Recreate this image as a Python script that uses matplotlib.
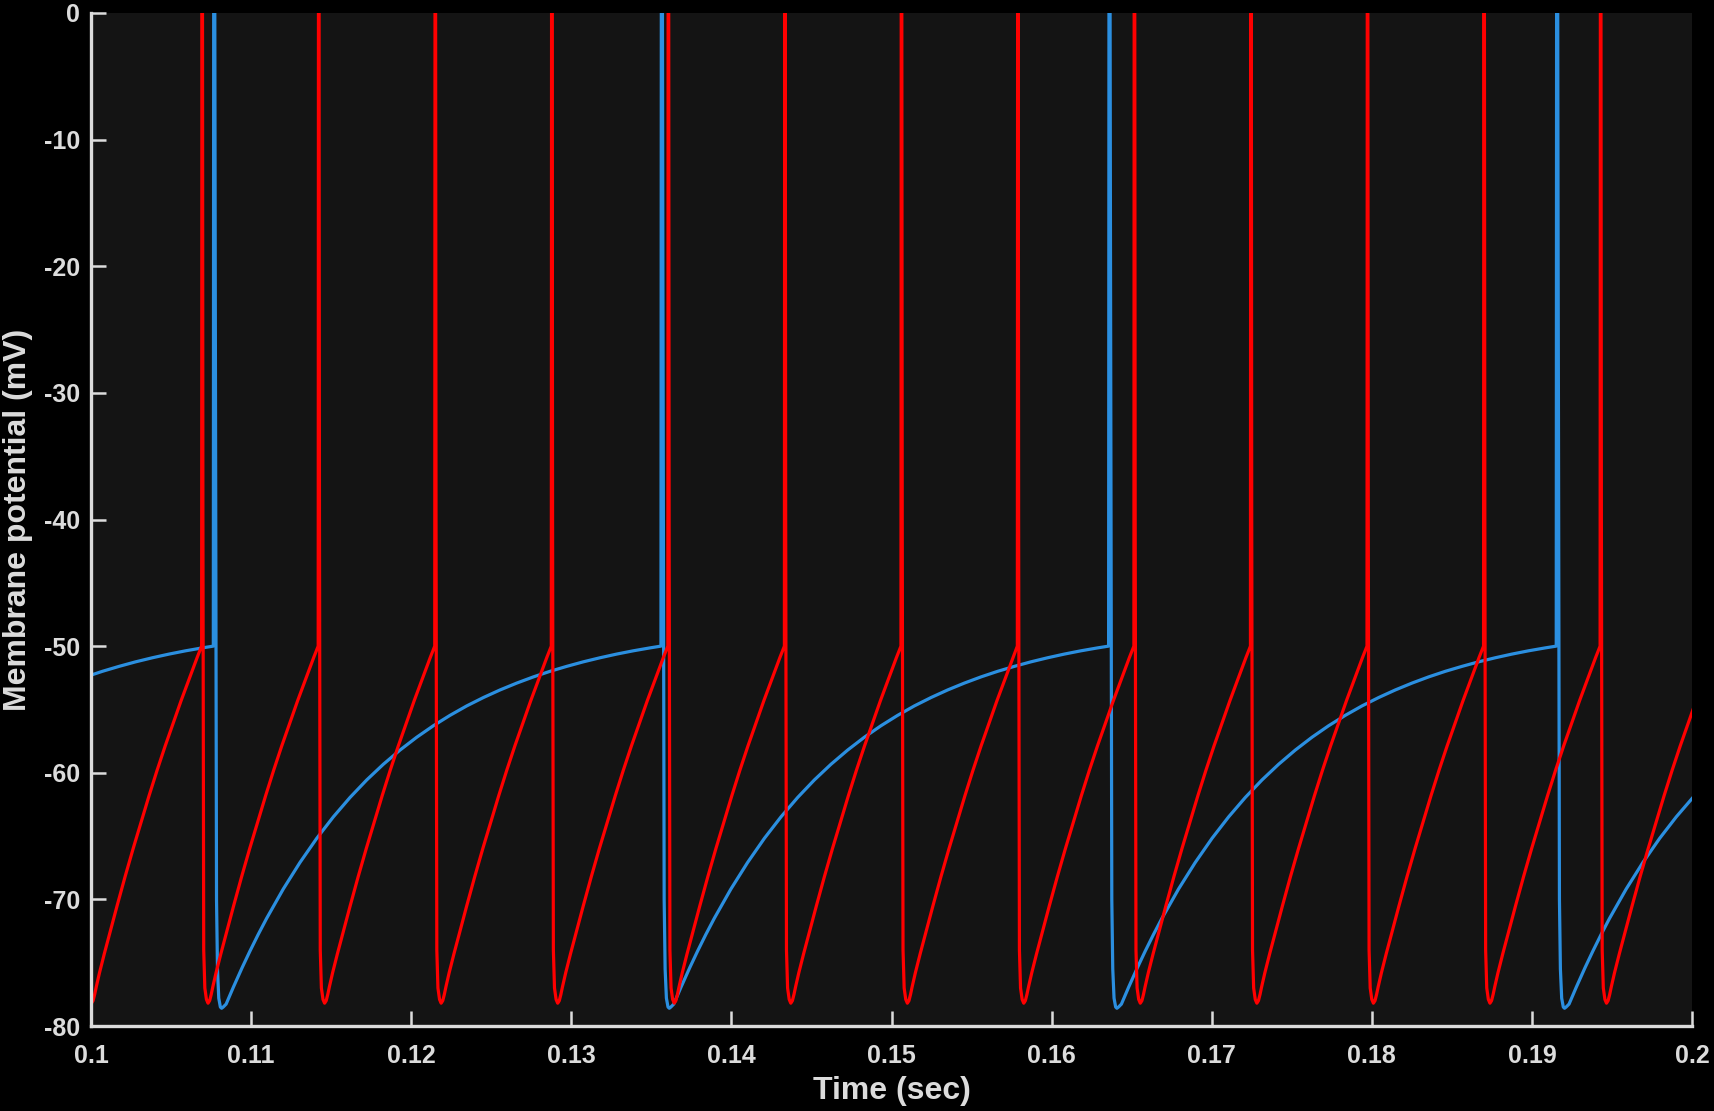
import numpy as np
import matplotlib
matplotlib.use("Agg")
import matplotlib.pyplot as plt

# spike onset times (s)
red_spikes = [0.09963, 0.10691, 0.11419, 0.12147, 0.12875, 0.13603, 0.14331,
              0.15059, 0.15786, 0.16514, 0.17242, 0.17970, 0.18698, 0.19426]
blue_spikes = [0.07968, 0.10764, 0.13560, 0.16356, 0.19152]

# one cycle of each trace: time after spike onset (s) and membrane potential (mV)
red_cycle_t = [0, 0.00003, 0.00008, 0.00013, 0.0002, 0.0003, 0.0004, 0.0005,
               0.0006, 0.0007, 0.0009, 0.0012, 0.0016, 0.002, 0.0025, 0.003,
               0.0035, 0.004, 0.0045, 0.005, 0.0055, 0.006, 0.0065, 0.007]
red_cycle_v = [-50, 40, -40, -74, -77.0, -77.9, -78.2, -78.0,
               -77.5, -76.9, -75.8, -74.3, -72.4, -70.5, -68.2, -66.0,
               -63.9, -61.8, -59.8, -57.9, -56.1, -54.3, -52.6, -50.9]

blue_cycle_t = [0, 0.00004, 0.00012, 0.0002, 0.00026, 0.00034, 0.00044, 0.00052,
                0.00062, 0.0008, 0.00125, 0.0018, 0.00229, 0.0028, 0.00333,
                0.00437, 0.00541, 0.00646, 0.0075, 0.00854, 0.00958, 0.01062,
                0.01166, 0.0127, 0.01374, 0.01478, 0.01583, 0.01687, 0.01791,
                0.01895, 0.01999, 0.02103, 0.02207, 0.02311, 0.02415, 0.02519,
                0.02623, 0.02727]
blue_cycle_v = [-50, 40, -20, -70, -75.5, -77.8, -78.5, -78.6,
                -78.5, -78.27, -76.94, -75.39, -74.08, -72.78, -71.50,
                -69.18, -67.09, -65.18, -63.48, -61.95, -60.57, -59.33,
                -58.21, -57.20, -56.29, -55.47, -54.72, -54.06, -53.46,
                -52.92, -52.43, -51.99, -51.60, -51.24, -50.92, -50.63,
                -50.37, -50.14]

x_ticks = [0.1, 0.11, 0.12, 0.13, 0.14, 0.15, 0.16, 0.17, 0.18, 0.19, 0.2]
x_labels = ["0.1", "0.11", "0.12", "0.13", "0.14", "0.15", "0.16", "0.17", "0.18", "0.19", "0.2"]
y_ticks = [-80, -70, -60, -50, -40, -30, -20, -10, 0]
y_labels = ["-80", "-70", "-60", "-50", "-40", "-30", "-20", "-10", "0"]


def build_trace(spikes, cyc_t, cyc_v):
    # place the same cycle after every spike onset
    t = np.concatenate([s + np.asarray(cyc_t) for s in spikes])
    v = np.tile(cyc_v, len(spikes))
    return t, v


plt.rcParams["font.family"] = ["Liberation Sans", "DejaVu Sans"]
plt.rcParams["font.weight"] = "bold"

fg = "#dcdcdc"
fig = plt.figure(figsize=(17.14, 11.11), dpi=100, facecolor="black")
ax = fig.add_axes([91 / 1714, 1 - 1026 / 1111, 1601 / 1714, 1013 / 1111])
ax.set_facecolor("#141414")

tb, vb = build_trace(blue_spikes, blue_cycle_t, blue_cycle_v)
tr, vr = build_trace(red_spikes, red_cycle_t, red_cycle_v)
ax.plot(tb, vb, color="#2b8fe0", lw=2.3)
ax.plot(tr, vr, color="#ff0000", lw=2.3)

ax.set_xlim(0.1, 0.2)
ax.set_ylim(-80, 0)
ax.set_xticks(x_ticks)
ax.set_xticklabels(x_labels)
ax.set_yticks(y_ticks)
ax.set_yticklabels(y_labels)

for side in ["top", "right"]:
    ax.spines[side].set_visible(False)
for side in ["left", "bottom"]:
    ax.spines[side].set_color(fg)
    ax.spines[side].set_linewidth(2.4)

ax.tick_params(direction="in", length=11, width=1.8, colors=fg, labelsize=18)
ax.tick_params(axis="x", pad=13)
ax.tick_params(axis="y", pad=8)
for lab in ax.get_xticklabels() + ax.get_yticklabels():
    lab.set_fontweight("bold")

ax.set_xlabel("Time (sec)", fontsize=23, fontweight="bold", color=fg, labelpad=6)
ax.set_ylabel("Membrane potential (mV)", fontsize=23, fontweight="bold", color=fg, labelpad=8)

fig.savefig("out.png", dpi=100, facecolor="black")
